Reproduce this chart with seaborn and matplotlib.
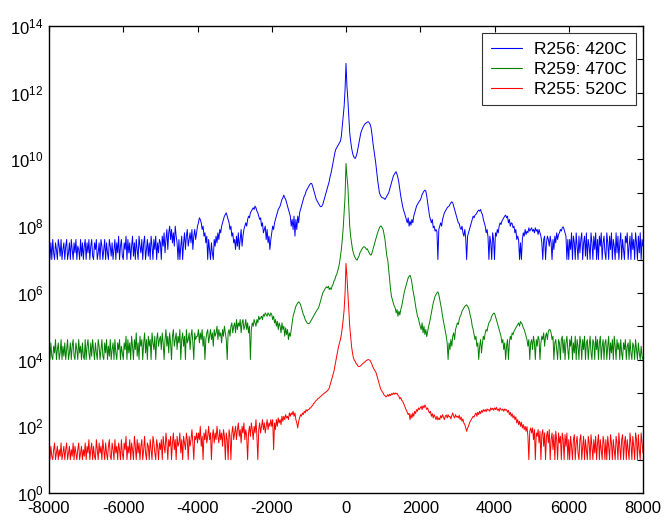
import numpy as np
import pandas as pd
import matplotlib
matplotlib.use("Agg")
import matplotlib.pyplot as plt
import seaborn as sns

# sample grid
x_start, x_stop, x_step = -8000, 8000, 25

# log10 of intensity (one value per 25 units of x)
blue_log = [
    7.3, 7.0, 7.5, 7.0, 7.6, 7.2, 7.0, 7.5, 7.3, 7.0, 7.6, 7.4, 7.1, 7.6, 7.0, 7.3, 7.5, 7.0, 7.4, 7.6,
    7.0, 7.2, 7.5, 7.0, 7.6, 7.3, 7.0, 7.5, 7.2, 7.6, 7.0, 7.4, 7.3, 7.0, 7.6, 7.1, 7.5, 7.0, 7.4, 7.6,
    7.0, 7.5, 7.2, 7.6, 7.0, 7.4, 7.6, 7.1, 7.0, 7.5, 7.3, 7.6, 7.0, 7.2, 7.5, 7.0, 7.6, 7.4, 7.0, 7.3,
    7.6, 7.0, 7.5, 7.2, 7.0, 7.6, 7.4, 7.1, 7.5, 7.0, 7.3, 7.6, 7.0, 7.5, 7.2, 7.7, 7.0, 7.4, 7.6, 7.1,
    7.0, 7.5, 7.3, 7.7, 7.0, 7.6, 7.2, 7.5, 7.0, 7.4, 7.7, 7.1, 7.5, 7.0, 7.6, 7.3, 7.0, 7.7, 7.4, 7.2,
    7.6, 7.0, 7.5, 7.7, 7.0, 7.3, 7.6, 7.1, 7.5, 7.0, 7.7, 7.4, 7.0, 7.6, 7.3, 7.7, 7.0, 7.5, 7.2, 7.6,
    7.5, 7.0, 7.7, 7.4, 7.8, 7.2, 7.6, 7.9, 7.3, 7.8, 8.0, 7.6, 7.9, 7.5, 7.8, 7.4, 8.0, 7.7, 7.5, 7.0,
    7.6, 7.0, 7.4, 7.7, 7.0, 7.5, 7.8, 7.3, 7.7, 7.9, 7.4, 7.6, 7.8, 7.5, 7.9, 7.3, 7.7, 7.9, 7.6, 7.8,
    8.0, 8.1, 8.25, 8.2, 8.1, 7.9, 8.0, 7.7, 7.8, 7.5, 7.7, 7.0, 7.6, 7.3, 7.0, 7.5, 7.2, 7.0, 7.6, 7.4,
    7.7, 7.5, 7.8, 7.6, 7.9, 7.8, 8.0, 8.1, 8.2, 8.3, 8.35, 8.4, 8.3, 8.2, 8.1, 7.9, 8.0, 7.7, 7.8, 7.5,
    7.6, 7.3, 7.7, 7.4, 7.8, 7.3, 7.6, 7.9, 7.4, 7.7, 7.9, 8.0, 8.1, 8.0, 8.2, 8.3, 8.25, 8.4, 8.45, 8.5,
    8.55, 8.5, 8.6, 8.55, 8.45, 8.4, 8.3, 8.2, 8.25, 8.0, 8.1, 7.8, 7.9, 8.0, 7.6, 7.9, 7.5, 7.7, 7.3, 7.6,
    7.8, 8.0, 7.9, 8.1, 8.2, 8.3, 8.4, 8.5, 8.55, 8.6, 8.7, 8.8, 8.85, 8.93, 8.85, 8.8, 8.7, 8.6, 8.5, 8.4,
    8.3, 8.0, 8.2, 7.9, 8.3, 7.7, 8.2, 7.9, 8.3, 8.1, 8.4, 8.5, 8.6, 8.7, 8.8, 8.9, 8.95, 9.05, 9.1, 9.15,
    9.2, 9.25, 9.28, 9.28, 9.2, 9.1, 9.0, 8.9, 8.8, 8.75, 8.7, 8.65, 8.6, 8.58, 8.6, 8.65, 8.75, 8.85, 8.95, 9.05,
    9.15, 9.25, 9.35, 9.5, 9.6, 9.75, 9.9, 10.05, 10.2, 10.3, 10.35, 10.4, 10.45, 10.5, 10.55, 10.7, 11.0, 11.3, 11.6, 12.1,
    12.88, 12.2, 11.8, 11.3, 10.8, 10.55, 10.35, 10.2, 10.1, 10.05, 10.03, 10.1, 10.2, 10.35, 10.5, 10.65, 10.8, 10.88, 10.95, 11.0,
    11.05, 11.08, 11.1, 11.12, 11.13, 11.1, 11.05, 10.95, 10.75, 10.5, 10.3, 10.1, 9.9, 9.65, 9.4, 9.2, 9.0, 8.93, 8.88, 8.85,
    8.85, 8.83, 8.8, 8.85, 8.9, 8.95, 9.0, 9.1, 9.2, 9.3, 9.4, 9.5, 9.55, 9.6, 9.63, 9.55, 9.45, 9.3, 9.1, 8.9,
    8.75, 8.6, 8.48, 8.4, 8.3, 8.2, 8.1, 8.25, 8.0, 8.15, 8.03, 8.2, 8.1, 8.3, 8.4, 8.5, 8.6, 8.65, 8.7, 8.75,
    8.78, 8.85, 8.95, 9.0, 9.05, 9.08, 9.05, 8.9, 8.7, 8.5, 8.3, 8.2, 8.1, 8.2, 7.95, 8.0, 7.85, 7.9, 7.83, 7.0,
    7.9, 8.0, 8.1, 8.0, 8.2, 8.3, 8.4, 8.45, 8.5, 8.55, 8.58, 8.6, 8.65, 8.7, 8.73, 8.7, 8.6, 8.5, 8.4, 8.3,
    8.2, 8.1, 8.08, 7.95, 7.9, 8.0, 7.8, 7.7, 7.9, 7.63, 7.0, 7.7, 7.8, 7.9, 8.0, 8.1, 8.2, 8.3, 8.25, 8.33,
    8.35, 8.4, 8.45, 8.48, 8.45, 8.5, 8.4, 8.35, 8.2, 8.1, 8.0, 7.8, 7.9, 7.68, 7.0, 7.7, 7.5, 7.0, 7.8, 7.6,
    7.0, 7.8, 7.7, 7.9, 7.8, 8.0, 8.1, 8.05, 8.15, 8.2, 8.25, 8.3, 8.33, 8.25, 8.3, 8.1, 8.2, 8.0, 8.1, 8.08,
    7.95, 8.0, 7.8, 7.9, 7.6, 7.7, 7.58, 7.0, 7.5, 7.0, 7.6, 7.8, 7.7, 7.9, 7.75, 7.85, 7.8, 7.95, 7.85, 7.9,
    7.95, 7.85, 7.9, 7.8, 7.95, 7.85, 7.9, 7.75, 7.9, 7.8, 7.7, 7.5, 7.0, 7.6, 7.7, 7.0, 7.5, 7.7, 7.6, 7.4,
    7.7, 7.5, 7.0, 7.6, 7.3, 7.7, 7.5, 7.8, 7.6, 7.75, 7.8, 7.9, 7.85, 7.95, 7.98, 7.9, 7.8, 7.7, 7.0, 7.6,
    7.0, 7.6, 7.3, 7.8, 7.0, 7.7, 7.5, 7.0, 7.8, 7.4, 7.0, 7.7, 7.2, 7.6, 7.8, 7.0, 7.5, 7.7, 7.1, 7.8,
    7.0, 7.6, 7.4, 7.0, 7.8, 7.5, 7.0, 7.7, 7.3, 7.8, 7.0, 7.6, 7.0, 7.7, 7.4, 7.8, 7.0, 7.5, 7.7, 7.2,
    7.0, 7.8, 7.5, 7.0, 7.7, 7.3, 7.8, 7.0, 7.6, 7.4, 7.0, 7.8, 7.2, 7.7, 7.0, 7.5, 7.8, 7.0, 7.6, 7.3,
    7.0, 7.7, 7.5, 7.8, 7.0, 7.4, 7.7, 7.0, 7.8, 7.3, 7.6, 7.0, 7.8, 7.5, 7.0, 7.7, 7.2, 7.8, 7.0, 7.6,
    7.4,
]

green_log = [
    4.3, 4.0, 4.5, 4.1, 4.0, 4.4, 4.2, 4.6, 4.0, 4.3, 4.5, 4.0, 4.2, 4.6, 4.0, 4.4, 4.1, 4.5, 4.0, 4.3,
    4.6, 4.0, 4.2, 4.5, 4.0, 4.4, 4.6, 4.1, 4.0, 4.5, 4.3, 4.0, 4.6, 4.2, 4.4, 4.0, 4.5, 4.1, 4.0, 4.6,
    4.0, 4.4, 4.6, 4.2, 4.0, 4.5, 4.1, 4.6, 4.3, 4.0, 4.5, 4.2, 4.0, 4.6, 4.4, 4.0, 4.3, 4.6, 4.1, 4.0,
    4.5, 4.2, 4.6, 4.0, 4.4, 4.1, 4.6, 4.0, 4.3, 4.5, 4.0, 4.6, 4.2, 4.0, 4.5, 4.3, 4.6, 4.0, 4.4, 4.2,
    4.0, 4.5, 4.3, 4.7, 4.0, 4.6, 4.2, 4.5, 4.0, 4.7, 4.4, 4.0, 4.6, 4.3, 4.8, 4.1, 4.5, 4.0, 4.7, 4.4,
    4.6, 4.0, 4.5, 4.8, 4.2, 4.6, 4.0, 4.7, 4.4, 4.6, 4.0, 4.8, 4.5, 4.3, 4.7, 4.0, 4.6, 4.8, 4.4, 4.6,
    4.7, 4.3, 4.8, 4.5, 4.0, 4.6, 4.9, 4.4, 4.7, 4.2, 4.8, 4.5, 4.0, 4.7, 4.9, 4.4, 4.6, 4.8, 4.3, 4.7,
    4.5, 4.9, 4.0, 4.6, 4.8, 4.4, 4.7, 4.0, 4.9, 4.5, 4.6, 4.8, 4.3, 4.7, 4.9, 4.5, 4.0, 4.8, 4.6, 4.7,
    4.7, 4.9, 4.5, 4.8, 4.6, 4.9, 4.4, 4.7, 4.0, 4.6, 4.8, 4.9, 4.5, 4.7, 4.9, 4.6, 4.8, 4.4, 4.9, 4.7,
    4.8, 5.0, 4.6, 4.9, 4.7, 4.8, 4.5, 4.9, 4.7, 5.0, 4.8, 4.6, 4.0, 4.8, 4.9, 4.7, 5.0, 5.1, 4.8, 5.0,
    5.1, 4.8, 5.2, 4.9, 5.1, 5.0, 5.2, 4.8, 5.1, 5.2, 4.9, 5.0, 5.2, 4.9, 5.1, 4.8, 5.0, 4.0, 4.9, 5.1,
    5.0, 5.2, 5.1, 5.0, 5.2, 5.1, 5.3, 5.2, 5.25, 5.3, 5.2, 5.35, 5.3, 5.4, 5.35, 5.3, 5.4, 5.35, 5.3, 5.4,
    5.35, 5.2, 5.3, 5.1, 5.2, 5.0, 5.15, 4.9, 5.1, 5.0, 4.8, 5.1, 4.9, 5.0, 4.7, 4.95, 4.75, 4.9, 4.6, 4.8,
    4.7, 4.9, 5.1, 5.3, 5.4, 5.5, 5.6, 5.65, 5.7, 5.73, 5.7, 5.65, 5.55, 5.45, 5.35, 5.3, 5.2, 5.15, 5.1, 5.08,
    5.08, 5.1, 5.15, 5.2, 5.25, 5.3, 5.35, 5.4, 5.45, 5.5, 5.53, 5.6, 5.7, 5.8, 5.9, 6.0, 6.05, 6.1, 6.15, 6.18,
    6.15, 6.2, 6.1, 6.15, 6.1, 6.2, 6.25, 6.35, 6.4, 6.5, 6.55, 6.65, 6.75, 6.9, 7.1, 7.3, 7.6, 7.95, 8.4, 8.9,
    9.88, 9.5, 9.2, 8.6, 8.0, 7.7, 7.5, 7.3, 7.2, 7.1, 7.05, 7.0, 6.98, 7.05, 7.1, 7.2, 7.25, 7.3, 7.35, 7.38,
    7.38, 7.35, 7.3, 7.32, 7.25, 7.2, 7.15, 7.13, 7.2, 7.3, 7.4, 7.5, 7.6, 7.7, 7.8, 7.88, 7.95, 8.0, 8.0, 7.95,
    7.9, 7.75, 7.6, 7.35, 7.1, 6.98, 6.7, 6.4, 6.1, 5.9, 5.79, 5.7, 5.6, 5.55, 5.4, 5.5, 5.3, 5.45, 5.34, 5.5,
    5.6, 5.75, 5.9, 6.05, 6.15, 6.25, 6.35, 6.45, 6.5, 6.53, 6.45, 6.3, 6.1, 5.95, 5.8, 5.6, 5.45, 5.3, 5.24, 5.1,
    5.0, 4.9, 5.1, 4.8, 5.0, 4.75, 4.9, 4.69, 4.85, 5.0, 5.1, 5.25, 5.4, 5.55, 5.7, 5.8, 5.9, 5.95, 6.0, 6.03,
    5.95, 5.8, 5.65, 5.5, 5.3, 5.15, 4.99, 4.85, 4.7, 4.5, 4.0, 4.5, 4.3, 4.6, 4.4, 4.7, 4.8, 4.6, 4.9, 5.0,
    5.1, 5.05, 5.2, 5.3, 5.35, 5.45, 5.5, 5.55, 5.6, 5.62, 5.64, 5.6, 5.55, 5.45, 5.3, 5.2, 5.0, 4.9, 4.75, 4.6,
    4.7, 4.4, 4.5, 4.0, 4.4, 4.6, 4.2, 4.5, 4.7, 4.6, 4.8, 4.9, 4.85, 5.0, 5.1, 5.15, 5.2, 5.3, 5.35, 5.39,
    5.39, 5.3, 5.2, 5.1, 5.0, 4.9, 4.8, 4.7, 4.5, 4.6, 4.3, 4.5, 4.0, 4.4, 4.6, 4.0, 4.5, 4.7, 4.6, 4.8,
    4.75, 4.85, 4.9, 4.95, 5.0, 5.05, 5.1, 5.0, 5.14, 5.1, 5.05, 4.95, 4.9, 4.8, 4.7, 4.6, 4.4, 4.6, 4.0, 4.5,
    4.6, 4.3, 4.7, 4.5, 4.0, 4.6, 4.4, 4.7, 4.6, 4.0, 4.5, 4.7, 4.6, 4.8, 4.4, 4.7, 4.8, 4.6, 4.85, 4.9,
    4.89, 4.8, 4.6, 4.7, 4.0, 4.5, 4.6, 4.3, 4.0, 4.6, 4.5, 4.0, 4.6, 4.7, 4.2, 4.6, 4.0, 4.5, 4.7, 4.3,
    4.0, 4.6, 4.4, 4.7, 4.0, 4.5, 4.2, 4.7, 4.0, 4.6, 4.4, 4.0, 4.7, 4.5, 4.0, 4.6, 4.3, 4.7, 4.0, 4.5,
    4.6, 4.0, 4.4, 4.7, 4.2, 4.0, 4.6, 4.5, 4.0, 4.7, 4.3, 4.6, 4.0, 4.5, 4.7, 4.0, 4.4, 4.6, 4.0, 4.5,
    4.6, 4.0, 4.4, 4.7, 4.0, 4.5, 4.2, 4.6, 4.0, 4.7, 4.4, 4.0, 4.6, 4.3, 4.5, 4.0, 4.6, 4.2, 4.0, 4.5,
    4.3, 4.6, 4.0, 4.4, 4.5, 4.0, 4.6, 4.2, 4.0, 4.5, 4.4, 4.0, 4.6, 4.3, 4.0, 4.5, 4.2, 4.0, 4.4, 4.1,
    4.0,
]

red_log = [
    1.3, 1.0, 1.4, 1.1, 1.0, 1.3, 1.5, 1.0, 1.2, 1.4, 1.0, 1.3, 1.1, 1.5, 1.0, 1.2, 1.4, 1.0, 1.3, 1.5,
    1.0, 1.2, 1.4, 1.0, 1.3, 1.1, 1.5, 1.0, 1.4, 1.2, 1.0, 1.3, 1.5, 1.0, 1.2, 1.4, 1.0, 1.3, 1.1, 1.5,
    1.0, 1.4, 1.2, 1.6, 1.0, 1.3, 1.5, 1.0, 1.4, 1.1, 1.0, 1.6, 1.3, 1.0, 1.5, 1.2, 1.4, 1.0, 1.6, 1.3,
    1.0, 1.5, 1.2, 1.0, 1.4, 1.6, 1.1, 1.0, 1.5, 1.3, 1.0, 1.6, 1.2, 1.4, 1.0, 1.5, 1.3, 1.0, 1.6, 1.2,
    1.0, 1.5, 1.3, 1.7, 1.0, 1.4, 1.2, 1.6, 1.0, 1.5, 1.3, 1.0, 1.7, 1.4, 1.0, 1.6, 1.2, 1.5, 1.0, 1.4,
    1.6, 1.0, 1.3, 1.7, 1.2, 1.0, 1.5, 1.4, 1.0, 1.6, 1.3, 1.0, 1.7, 1.5, 1.2, 1.0, 1.6, 1.4, 1.0, 1.5,
    1.3, 1.6, 1.0, 1.7, 1.4, 1.2, 1.8, 1.5, 1.0, 1.6, 1.4, 1.7, 1.0, 1.5, 1.8, 1.3, 1.6, 1.0, 1.7, 1.4,
    1.5, 1.8, 1.2, 1.6, 1.0, 1.7, 1.5, 1.3, 1.8, 1.6, 1.0, 1.7, 1.4, 1.6, 1.9, 1.5, 1.0, 1.7, 1.6, 1.8,
    1.5, 1.8, 1.6, 2.0, 1.4, 1.7, 1.0, 1.8, 1.6, 1.9, 1.5, 1.7, 2.0, 1.6, 1.8, 1.0, 1.7, 1.9, 1.5, 1.8,
    1.6, 2.0, 1.7, 1.5, 1.9, 1.6, 1.8, 1.4, 1.9, 1.7, 1.0, 1.8, 1.6, 1.0, 1.9, 1.7, 1.0, 1.8, 2.0, 1.6,
    1.8, 2.0, 1.6, 1.9, 2.1, 1.7, 1.9, 1.5, 2.0, 1.8, 2.1, 1.6, 1.9, 1.7, 1.0, 1.8, 2.0, 1.7, 2.1, 1.9,
    1.6, 2.0, 1.8, 2.2, 1.7, 1.0, 1.9, 2.1, 1.8, 2.0, 2.2, 1.9, 2.1, 1.8, 2.0, 2.2, 1.9, 2.1, 2.0, 2.2,
    2.0, 2.2, 1.3, 2.1, 1.9, 2.2, 2.0, 2.25, 2.1, 2.2, 2.05, 2.3, 2.15, 2.3, 2.2, 2.35, 2.25, 2.3, 2.2, 2.4,
    2.3, 2.4, 2.35, 2.45, 2.3, 2.4, 2.2, 2.1, 1.95, 2.15, 2.25, 2.35, 2.3, 2.4, 2.35, 2.45, 2.4, 2.5, 2.45, 2.5,
    2.5, 2.55, 2.55, 2.6, 2.62, 2.68, 2.7, 2.75, 2.78, 2.8, 2.84, 2.85, 2.88, 2.9, 2.93, 2.95, 2.98, 3.0, 3.02, 3.04,
    3.07, 3.1, 3.15, 3.25, 3.35, 3.45, 3.55, 3.65, 3.8, 3.95, 4.1, 4.25, 4.4, 4.5, 4.6, 4.75, 4.95, 5.2, 5.5, 6.0,
    6.88, 6.5, 6.0, 5.5, 5.0, 4.7, 4.39, 4.2, 4.05, 3.98, 3.94, 3.88, 3.85, 3.8, 3.79, 3.8, 3.82, 3.85, 3.88, 3.9,
    3.92, 3.95, 3.97, 3.99, 4.0, 3.99, 3.97, 3.92, 3.85, 3.78, 3.72, 3.67, 3.64, 3.55, 3.45, 3.35, 3.25, 3.15, 3.08, 3.04,
    3.0, 2.94, 2.92, 2.88, 2.9, 2.95, 2.9, 2.96, 2.92, 2.98, 2.95, 3.0, 2.96, 3.0, 2.97, 2.99, 2.93, 2.9, 2.82, 2.86,
    2.78, 2.75, 2.69, 2.62, 2.55, 2.48, 2.42, 2.35, 2.39, 2.2, 2.36, 2.25, 2.4, 2.3, 2.45, 2.38, 2.5, 2.45, 2.55, 2.5,
    2.55, 2.6, 2.5, 2.62, 2.55, 2.64, 2.58, 2.5, 2.55, 2.45, 2.4, 2.45, 2.3, 2.38, 2.25, 2.35, 2.28, 2.2, 2.3, 2.19,
    2.25, 2.2, 2.32, 2.25, 2.35, 2.28, 2.2, 2.3, 2.34, 2.25, 2.35, 2.28, 2.3, 2.22, 2.32, 2.4, 2.3, 2.25, 2.35, 2.28,
    2.3, 2.25, 2.33, 2.2, 2.28, 2.15, 2.22, 2.1, 2.05, 1.95, 1.85, 1.95, 2.0, 2.1, 2.15, 2.2, 2.25, 2.3, 2.28, 2.35,
    2.4, 2.3, 2.42, 2.35, 2.45, 2.38, 2.47, 2.42, 2.5, 2.45, 2.5, 2.44, 2.52, 2.48, 2.5, 2.45, 2.55, 2.5, 2.54, 2.48,
    2.55, 2.5, 2.57, 2.48, 2.52, 2.45, 2.55, 2.5, 2.48, 2.52, 2.45, 2.52, 2.48, 2.5, 2.42, 2.48, 2.35, 2.42, 2.3, 2.38,
    2.25, 2.32, 2.2, 2.28, 2.1, 2.2, 2.05, 2.15, 2.0, 2.12, 1.95, 2.05, 1.9, 2.0, 1.85, 1.99, 1.7, 1.0, 1.85, 1.95,
    1.8, 1.95, 1.6, 1.9, 1.0, 1.8, 1.7, 1.9, 1.5, 1.85, 1.0, 1.75, 1.9, 1.4, 1.8, 1.0, 1.7, 1.85, 1.5, 1.9,
    1.0, 1.6, 1.8, 1.3, 1.75, 1.0, 1.85, 1.6, 1.0, 1.8, 1.5, 1.7, 1.0, 1.8, 1.6, 1.0, 1.75, 1.4, 1.8, 1.0,
    1.6, 1.0, 1.7, 1.4, 1.0, 1.6, 1.75, 1.0, 1.5, 1.7, 1.2, 1.0, 1.6, 1.75, 1.0, 1.4, 1.7, 1.0, 1.6, 1.3,
    1.0, 1.7, 1.5, 1.0, 1.75, 1.4, 1.0, 1.6, 1.2, 1.7, 1.0, 1.5, 1.75, 1.0, 1.6, 1.3, 1.0, 1.7, 1.5, 1.0,
    1.6, 1.0, 1.7, 1.4, 1.0, 1.75, 1.5, 1.0, 1.6, 1.3, 1.0, 1.7, 1.5, 1.0, 1.8, 1.4, 1.0, 1.6, 1.75, 1.0,
    1.5, 1.7, 1.0, 1.6, 1.3, 1.0, 1.8, 1.5, 1.0, 1.7, 1.4, 1.0, 1.8, 1.6, 1.0, 1.75, 1.3, 1.0, 1.8, 1.5,
    1.2,
]

series_names = ["R256: 420C", "R259: 470C", "R255: 520C"]
series_colors = ["#0000FF", "#008000", "#FF0000"]
x_ticks = [-8000, -6000, -4000, -2000, 0, 2000, 4000, 6000, 8000]
y_decades = list(range(0, 15))
y_label_decades = [0, 2, 4, 6, 8, 10, 12, 14]

x = np.arange(x_start, x_stop + 1, x_step)
frames = []
for name, vals in zip(series_names, [blue_log, green_log, red_log]):
    assert len(vals) == len(x), (name, len(vals), len(x))
    frames.append(pd.DataFrame({"x": x, "y": 10.0 ** np.array(vals), "series": name}))
df = pd.concat(frames, ignore_index=True)

sns.set_style("white")
plt.rcParams["font.family"] = ["Liberation Sans", "DejaVu Sans"]
plt.rcParams["mathtext.fontset"] = "custom"
plt.rcParams["mathtext.rm"] = "Liberation Sans"
plt.rcParams["mathtext.it"] = "Liberation Sans"
plt.rcParams["text.color"] = "black"
plt.rcParams["legend.labelcolor"] = "black"

fig = plt.figure(figsize=(6.65, 5.22), dpi=100)
ax = fig.add_axes([49 / 665, 1 - 493 / 522, (643 - 49) / 665, (493 - 26) / 522])

sns.lineplot(data=df, x="x", y="y", hue="series", hue_order=series_names,
             palette=dict(zip(series_names, series_colors)), estimator=None,
             sort=False, linewidth=0.7, ax=ax)

ax.set_yscale("log")
ax.set_xlim(-8000, 8000)
ax.set_ylim(1, 1e14)
ax.set_xticks(x_ticks)
ax.set_xticklabels([str(t) for t in x_ticks])
ax.set_yticks([10.0 ** d for d in y_decades])
ax.set_yticklabels([r"$\mathregular{10^{%d}}$" % d if d in y_label_decades else "" for d in y_decades])
ax.yaxis.set_minor_locator(matplotlib.ticker.NullLocator())
ax.set_xlabel("")
ax.set_ylabel("")
ax.tick_params(direction="in", length=4, width=0.8, top=True, right=True,
               labelsize=12, colors="black")
ax.tick_params(axis="x", pad=6)
ax.tick_params(axis="y", pad=4)
for sp in ax.spines.values():
    sp.set_visible(True)
    sp.set_color("black")
    sp.set_linewidth(1.0)

leg = ax.legend(loc="upper right", frameon=True, fancybox=False, fontsize=12.5,
                handlelength=1.8, borderaxespad=0.4, labelspacing=0.28,
                borderpad=0.5, handletextpad=0.7)
leg.get_frame().set_edgecolor("black")
leg.get_frame().set_linewidth(0.8)
for line in leg.get_lines():
    line.set_linewidth(0.8)

fig.savefig("out.png", dpi=100)
